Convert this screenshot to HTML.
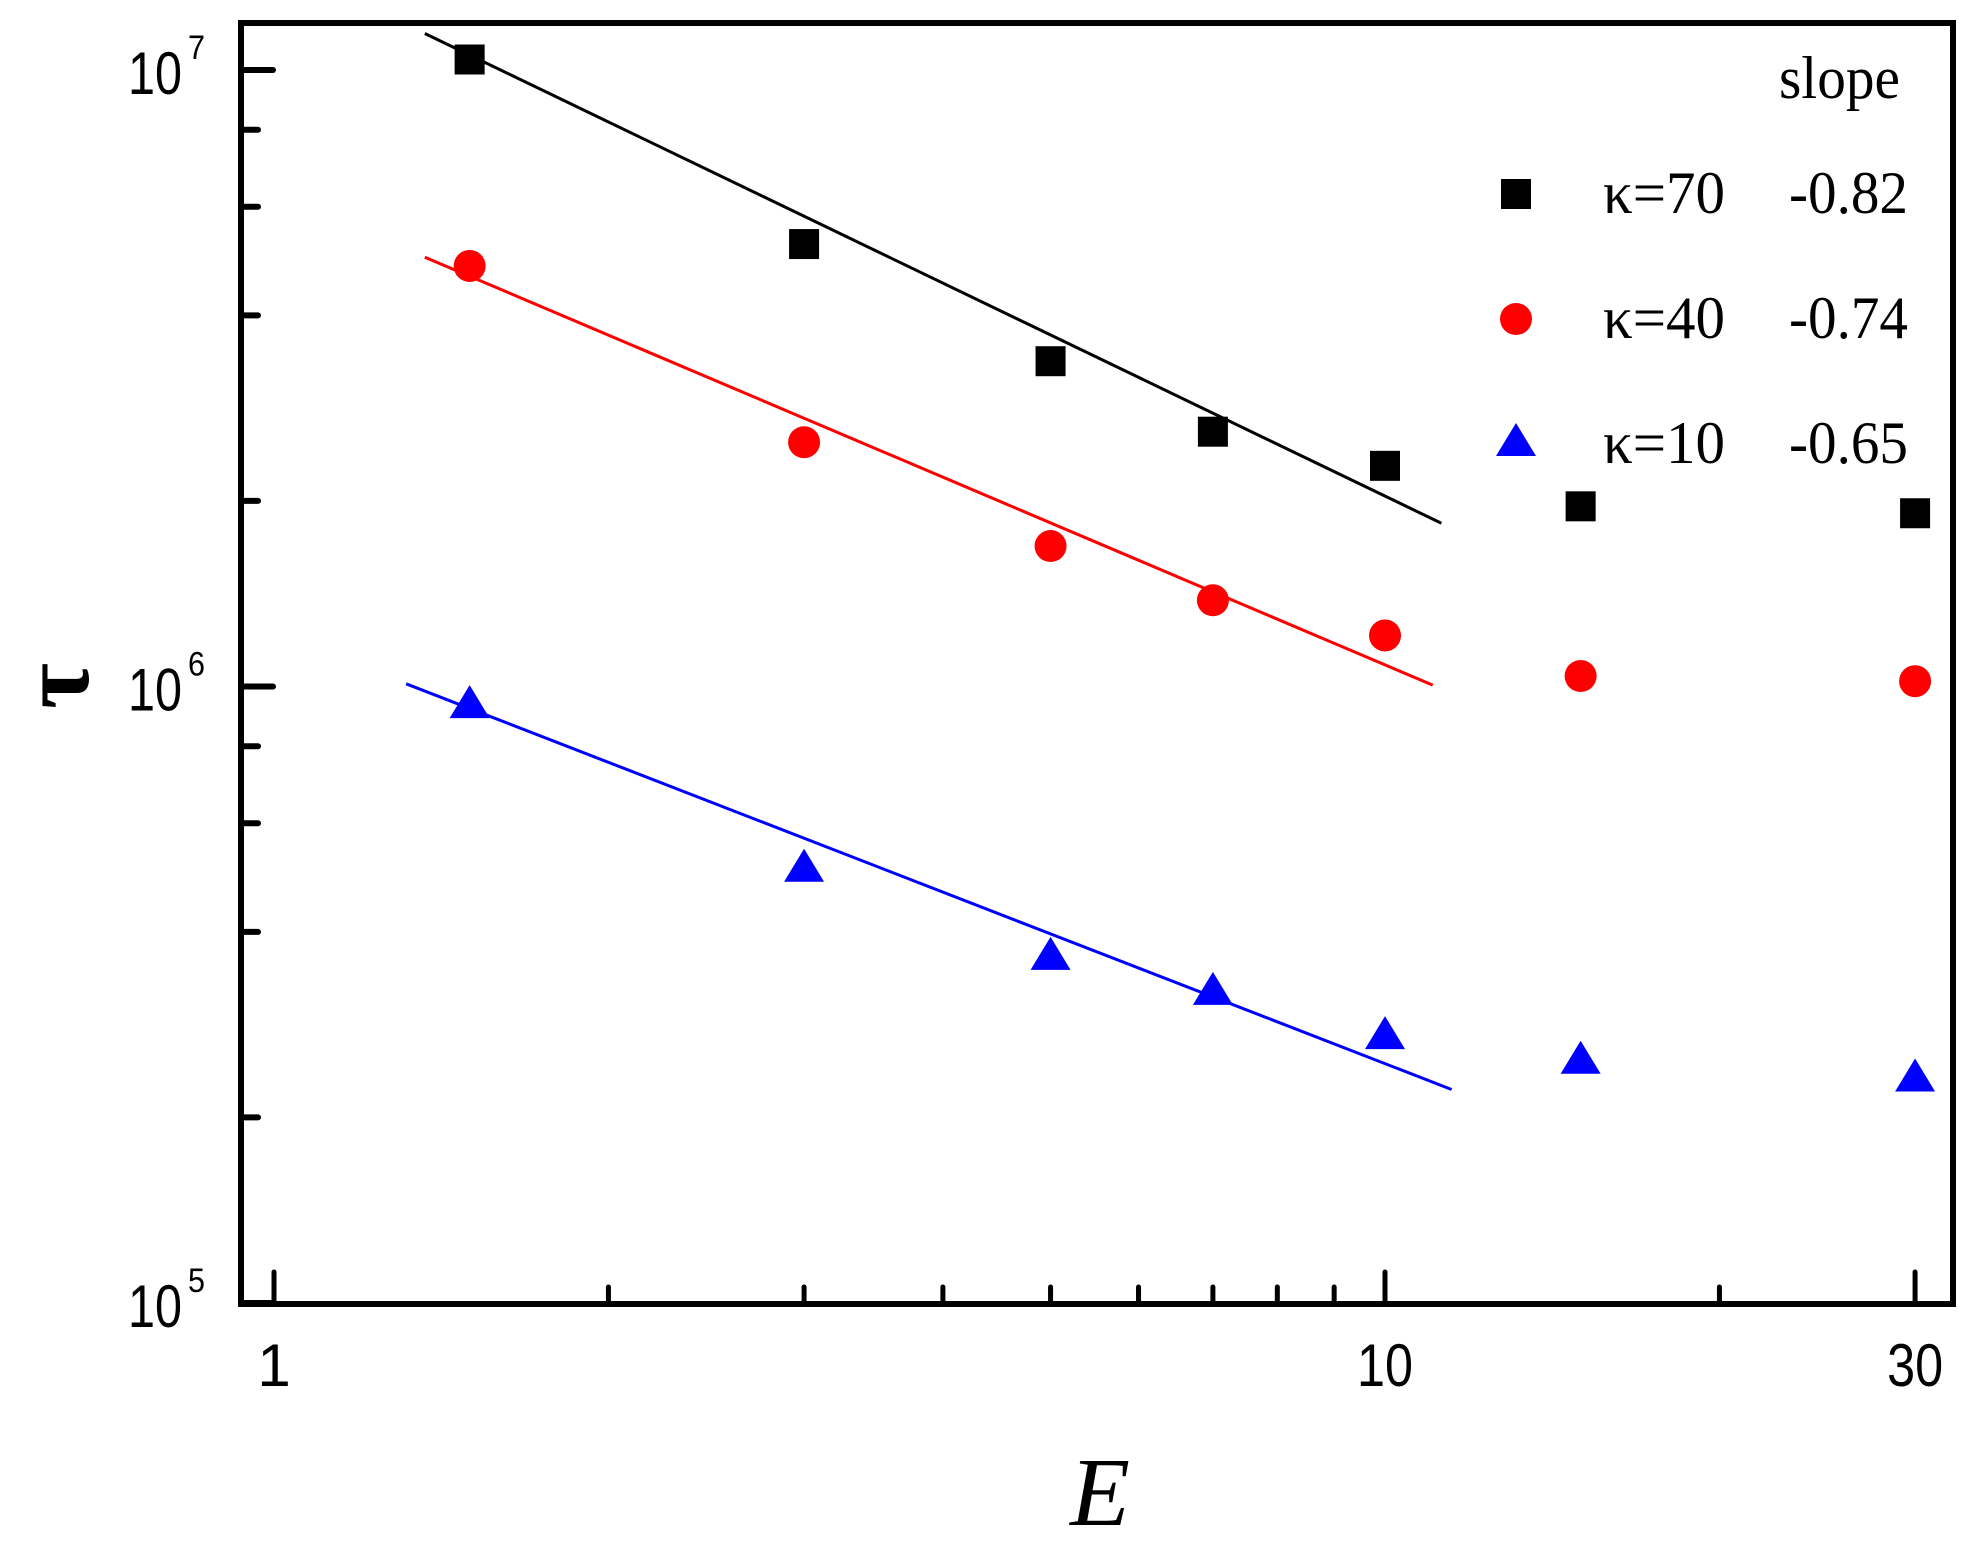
<!DOCTYPE html>
<html><head><meta charset="utf-8"><style>
html,body{margin:0;padding:0;background:#fff;}
svg{display:block;}
.ax{font-family:"Liberation Sans",Arial,sans-serif;}
.sr{font-family:"Liberation Serif","Times New Roman",serif;}
</style></head><body>
<svg id="chart" width="1972" height="1546" viewBox="0 0 1972 1546" xmlns="http://www.w3.org/2000/svg">
<rect x="0" y="0" width="1972" height="1546" fill="#fff"/>
<g id="plot"></g>
<g id="axes"></g>
<text class="sr" x="1100" y="1525" font-size="98" font-style="italic" text-anchor="middle">E</text>
<text class="sr" x="0" y="0" font-size="100" font-weight="bold" text-anchor="middle" transform="translate(88,686) rotate(-90)">τ</text>
<g class="sr" font-size="60">
<text x="1779" y="98" textLength="121" lengthAdjust="spacingAndGlyphs">slope</text>
<rect x="1501" y="179" width="30" height="30" fill="#000"/>
<text x="1603" y="213" textLength="122" lengthAdjust="spacingAndGlyphs">κ=70</text>
<text x="1789" y="213" textLength="119" lengthAdjust="spacingAndGlyphs">-0.82</text>
<circle cx="1516" cy="319" r="16" fill="#ff0000"/>
<text x="1603" y="338" textLength="122" lengthAdjust="spacingAndGlyphs">κ=40</text>
<text x="1789" y="338" textLength="119" lengthAdjust="spacingAndGlyphs">-0.74</text>
<polygon points="1516,423 1536,456 1496,456" fill="#0000ff"/>
<text x="1603" y="463" textLength="122" lengthAdjust="spacingAndGlyphs">κ=10</text>
<text x="1789" y="463" textLength="119" lengthAdjust="spacingAndGlyphs">-0.65</text>
</g>
</svg>
<script>
const eValues = [1.5, 3, 5, 7, 10, 15, 30];
const tauK70 = [1.04e7, 5.22e6, 3.37e6, 2.59e6, 2.28e6, 1.96e6, 1.91e6];
const tauK40 = [4.81e6, 2.49e6, 1.69e6, 1.38e6, 1.21e6, 1.04e6, 1.02e6];
const tauK10 = [9.4e5, 5.1e5, 3.67e5, 3.22e5, 2.73e5, 2.49e5, 2.33e5];
const fitE = [[1.367, 11.24], [1.367, 11.04], [1.315, 11.48]];
const fitTau = [[1.146e7, 1.84e6], [4.97e6, 1.005e6], [1.01e6, 2.22e5]];
const xTickMajor = [1, 10, 30];
const xTickLabels = ["1", "10", "30"];
const xTickMinor = [2, 3, 4, 5, 6, 7, 8, 9, 20];
const yTickMajorExp = [5, 6, 7];
const yTickMinor = [2e5, 4e5, 6e5, 8e5, 2e6, 4e6, 6e6, 8e6];

const NS = "http://www.w3.org/2000/svg";
const L = 241, R = 1953, T = 23, B = 1304;
function X(e) { return 274 + Math.log10(e) * 1111; }
function Y(v) { return 1303 - (Math.log10(v) - 5) * 616.5; }
function mk(tag, attrs, parent) {
  const el = document.createElementNS(NS, tag);
  for (const k in attrs) el.setAttribute(k, attrs[k]);
  parent.appendChild(el);
  return el;
}
const plot = document.getElementById('plot');
const axes = document.getElementById('axes');

const fitColors = ["#000", "#ff0000", "#0000ff"];
const fitNames = ["fit-line-k70", "fit-line-k40", "fit-line-k10"];
for (let i = 0; i < 3; i++) {
  const ln = mk('line', {x1: X(fitE[i][0]), y1: Y(fitTau[i][0]), x2: X(fitE[i][1]), y2: Y(fitTau[i][1]), stroke: fitColors[i], 'stroke-width': 3}, plot);
  
  
}
eValues.forEach((e, i) => {
  const cx = X(e);
  let y = Y(tauK70[i]);
  const sq = mk('rect', {x: cx - 15, y: y - 15, width: 30, height: 30, fill: '#000'}, plot);
  
  
  y = Y(tauK40[i]);
  const c = mk('circle', {cx: cx, cy: y, r: 16, fill: '#ff0000'}, plot);
  
  
  y = Y(tauK10[i]);
  const tr = mk('polygon', {points: `${cx},${y-18} ${cx+20},${y+15} ${cx-20},${y+15}`, fill: '#0000ff'}, plot);
  
  
});

const fr = mk('rect', {x: L, y: T, width: R - L, height: B - T, fill: 'none', stroke: '#000', 'stroke-width': 6}, axes);



xTickMajor.forEach((e, i) => {
  const x = X(e);
  const t = mk('line', {x1: x, y1: B, x2: x, y2: B - 32, stroke: '#000', 'stroke-width': 5, 'stroke-linecap': 'round'}, axes);
  
  
  const attrs = {x: x, y: 1386, 'font-size': 60, 'text-anchor': 'middle', class: 'ax'};
  if (xTickLabels[i].length > 1) { attrs.textLength = 28 * xTickLabels[i].length; attrs.lengthAdjust = 'spacingAndGlyphs'; }
  const lb = mk('text', attrs, axes);
  lb.textContent = xTickLabels[i];
  
  
});
xTickMinor.forEach(e => {
  const x = X(e);
  const t = mk('line', {x1: x, y1: B, x2: x, y2: B - 17, stroke: '#000', 'stroke-width': 5, 'stroke-linecap': 'round'}, axes);
  
  
});
yTickMajorExp.forEach(p => {
  const y = Y(Math.pow(10, p));
  const t = mk('line', {x1: L, y1: y, x2: L + 32, y2: y, stroke: '#000', 'stroke-width': 6, 'stroke-linecap': 'round'}, axes);
  
  
  const lb = mk('text', {x: 128, y: y + 24, 'font-size': 60, class: 'ax', textLength: 54, lengthAdjust: 'spacingAndGlyphs'}, axes);
  
  
  lb.textContent = '10';
  const sup = mk('text', {x: 188, y: y - 11, 'font-size': 34, class: 'ax', textLength: 17, lengthAdjust: 'spacingAndGlyphs'}, axes);
  
  
  sup.textContent = String(p);
});
yTickMinor.forEach(v => {
  const y = Y(v);
  const t = mk('line', {x1: L, y1: y, x2: L + 17, y2: y, stroke: '#000', 'stroke-width': 6, 'stroke-linecap': 'round'}, axes);
  
  
});
</script>
</body></html>
